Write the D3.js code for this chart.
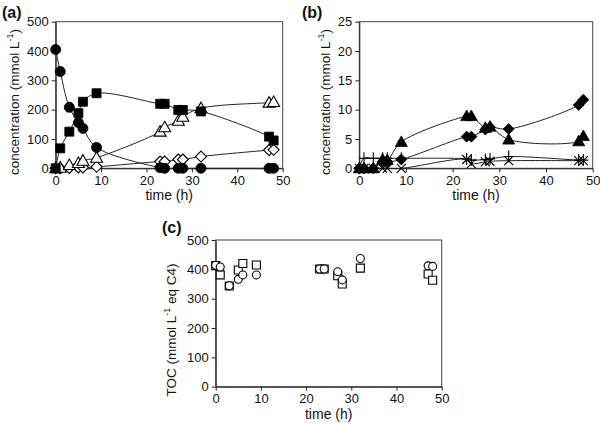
<!DOCTYPE html>
<html>
<head>
<meta charset="utf-8">
<script src="https://cdn.jsdelivr.net/npm/d3@7"></script>
<style>
body { margin: 0; background: #fff; }
svg { font-family: "Liberation Sans", Arial, sans-serif; }
</style>
</head>
<body>
<svg id="svg" width="600" height="427"></svg>
<script>
// temps de prélèvement (h)
var temps = [0, 1, 3, 5, 6, 9, 23, 24, 27, 28, 32, 47, 48]

// (a) concentrations en mmol/L
var cercleA = [405, 330, 208, 156, 136, 71, 2, 0, 0, 0, 0, 0, 0]
var carreA = [0, 68, 125, 188, 227, 256, 220, 220, 199, 199, 194, 108, 95]
var triangleA = [0, 2, 11, 18, 26, 36, 125, 140, 162, 176, 205, 224, 226]
var losangeA = [0, 0, 1, 3, 3, 5, 23, 23, 30, 30, 40, 62, 63]

// (b) concentrations en mmol/L
var triangleB = [0, 0, 0, 1.5, 1.4, 4.5, 8.9, 8.9, 6.9, 7.1, 4.9, 4.6, 5.5]
var losangeB = [0, 0, 0, 1.1, 1.1, 1.5, 5.4, 5.4, 6.6, 7.0, 6.7, 10.8, 11.7]
var croixB = [0, 0, 0, 0, 0, 0, 1.5, 0.8, 1.1, 1.2, 1.3, 1.3, 1.3]
var plusB = [0, 1.7, 1.7, 1.7, 1.7, 1.7, 1.6, 1.4, 1.5, 1.6, 2.0, 1.4, 1.4]

// (c) COT
var cercleC = [414, 408, 344, 366, 381, 381, 401, 401, 392, 364, 437, 412, 410]
var carreC = [413, 381, 343, 398, 420, 415, 401, 401, 378, 350, 404, 384, 363]

var ticksX = [0, 10, 20, 30, 40, 50]
var ticksA = [0, 100, 200, 300, 400, 500]
var ticksB = [0, 5, 10, 15, 20, 25]

var canevas = d3.select("#svg")

Figure =
{
	formes: {
		cercle: d3.symbol(d3.symbolCircle, 80)(),
		carre: "M-4.5,-4.5H4.5V4.5H-4.5Z",
		triangle: "M0,-6L6,4.5L-6,4.5Z",
		losange: "M0,-5.5L5.5,0L0,5.5L-5.5,0Z",
		petitCercle: d3.symbol(d3.symbolCircle, 50)(),
		petitCarre: "M-4,-4H4V4H-4Z",
		croix: "M-4.5,-4.5L4.5,4.5M-4.5,4.5L4.5,-4.5",
		plus: "M-5,0H5M0,-6V6"
	},

	draw_panneau(p){
		var g = canevas.append("g")

		// cadre
		g.append("rect")
			.attr("x", p.x.range()[0])
			.attr("y", p.y.range()[1])
			.attr("width", p.x.range()[1] - p.x.range()[0])
			.attr("height", p.y.range()[0] - p.y.range()[1])
			.attr("fill", "none")
			.attr("stroke", "#444")
			.attr("stroke-width", 1)

		g.append("g")
			.attr("transform", "translate(0," + p.y.range()[0] + ")")
			.call(d3.axisBottom(p.x).tickValues(ticksX).tickSize(4).tickSizeOuter(0).tickPadding(3))
		g.append("g")
			.attr("transform", "translate(" + p.x.range()[0] + ",0)")
			.call(d3.axisLeft(p.y).tickValues(p.ticksY).tickSize(4).tickSizeOuter(0).tickPadding(3))

		g.selectAll(".domain").attr("stroke", "#222")
		g.selectAll(".tick line").attr("stroke", "#222")
		g.selectAll(".tick text")
			.attr("font-size", "13px")
			.attr("font-family", "Liberation Sans, Arial, sans-serif")
			.attr("fill", "#111")

		// lettre du panneau
		g.append("text")
			.text(p.lettre)
			.attr("x", p.lx)
			.attr("y", p.ly)
			.attr("font-size", "16px")
			.attr("font-weight", "bold")
			.attr("fill", "#111")

		g.append("text")
			.text("time (h)")
			.attr("x", (p.x.range()[0] + p.x.range()[1]) / 2)
			.attr("y", p.y.range()[0] + 32)
			.attr("text-anchor", "middle")
			.attr("font-size", "14px")
			.attr("fill", "#111")

		var titre = g.append("text")
			.attr("transform", "translate(" + p.tx + "," + p.ty + ") rotate(-90)")
			.attr("text-anchor", "middle")
			.attr("font-size", "13.5px")
			.attr("fill", "#111")
		titre.append("tspan").text(p.titre[0])
		titre.append("tspan").text("-1").attr("font-size", "9px").attr("dy", -6)
		titre.append("tspan").text(p.titre[1]).attr("dy", 6)

		return g
	},

	draw_serie(g, p, valeurs, forme, plein, ligne){
		var pts = temps.map(function(t, i){ return [t, valeurs[i]] })

		if (ligne){
			g.append("path")
				.datum(pts)
				.attr("d", d3.line()
					.x(function(d){ return p.x(d[0]) })
					.y(function(d){ return p.y(d[1]) })
					.curve(d3.curveCatmullRom.alpha(0.5)))
				.attr("fill", "none")
				.attr("stroke", "#222")
				.attr("stroke-width", 1)
		}

		g.selectAll(null)
			.data(pts)
			.enter()
			.append("path")
			.attr("d", Figure.formes[forme])
			.attr("transform", function(d){ return "translate(" + p.x(d[0]) + "," + p.y(d[1]) + ")" })
			.attr("fill", plein ? "#000" : (forme == "croix" || forme == "plus" ? "none" : "#fff"))
			.attr("stroke", "#000")
			.attr("stroke-width", plein ? 0.8 : 1.1)
	},

	init(){
		var that = this

		var a = {
			x: d3.scaleLinear([0, 50], [55.7, 282.7]),
			y: d3.scaleLinear([0, 500], [168.3, 21.7]),
			ticksY: ticksA, lettre: "(a)", lx: 2, ly: 18,
			tx: 19, ty: 102, titre: ["concentration (mmol L", ")"]
		}
		var b = {
			x: d3.scaleLinear([0, 50], [359.3, 592.7]),
			y: d3.scaleLinear([0, 25], [168.3, 21.7]),
			ticksY: ticksB, lettre: "(b)", lx: 302, ly: 18,
			tx: 330, ty: 102, titre: ["concentration (mmol L", ")"]
		}
		var c = {
			x: d3.scaleLinear([0, 50], [215.7, 441.7]),
			y: d3.scaleLinear([0, 500], [386.7, 240]),
			ticksY: ticksA, lettre: "(c)", lx: 162, ly: 233,
			tx: 176, ty: 330, titre: ["TOC (mmol L", " eq C4)"]
		}

		var ga = that.draw_panneau(a)
		that.draw_serie(ga, a, losangeA, "losange", false, true)
		that.draw_serie(ga, a, triangleA, "triangle", false, true)
		that.draw_serie(ga, a, carreA, "carre", true, true)
		that.draw_serie(ga, a, cercleA, "cercle", true, true)

		var gb = that.draw_panneau(b)
		that.draw_serie(gb, b, croixB, "croix", false, true)
		that.draw_serie(gb, b, plusB, "plus", false, true)
		that.draw_serie(gb, b, losangeB, "losange", true, true)
		that.draw_serie(gb, b, triangleB, "triangle", true, true)

		var gc = that.draw_panneau(c)
		that.draw_serie(gc, c, carreC, "petitCarre", false, false)
		that.draw_serie(gc, c, cercleC, "petitCercle", false, false)
	}
}

Figure.init()
</script>
</body>
</html>
